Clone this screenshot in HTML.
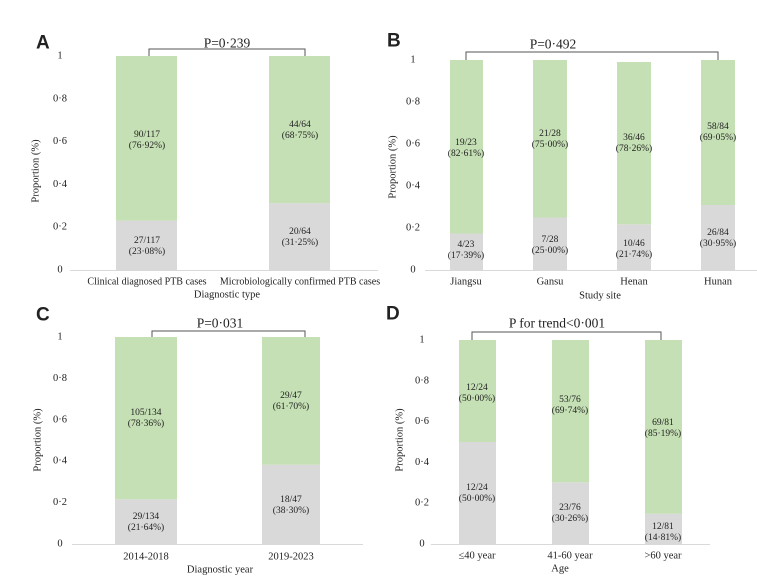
<!DOCTYPE html>
<html><head><meta charset="utf-8"><style>body{margin:0;background:#fff}svg{display:block}</style></head><body>
<svg width="757" height="580" xmlns="http://www.w3.org/2000/svg" font-family="Liberation Serif, serif" fill="#222">
<style>
.t{font-size:10.5px;text-anchor:middle;dominant-baseline:central}
.c{font-size:10px;text-anchor:middle;dominant-baseline:central}
.b{font-size:9.5px;text-anchor:middle;dominant-baseline:central}
.p{font-size:13.5px;text-anchor:middle;dominant-baseline:central}
.L{font-family:"Liberation Sans",sans-serif;font-weight:bold;font-size:19px;dominant-baseline:central}
.g{fill:#c5e0b4}.h{fill:#d9d9d9}
line{stroke:#d9d9d9;stroke-width:1}
path{fill:none;stroke:#555;stroke-width:1}
</style>
<!-- Panel A -->
<text class="L" x="36" y="43">A</text>
<path d="M149 56V49H305V56"/><text class="p" x="227" y="43">P=0·239</text>
<line x1="70" y1="270.5" x2="378" y2="270.5"/>
<g class="t"><text x="60" y="270">0</text><text x="60" y="227.2">0·2</text><text x="60" y="184.4">0·4</text><text x="60" y="141.6">0·6</text><text x="60" y="98.8">0·8</text><text x="60" y="56">1</text></g>
<rect class="h" x="116" y="220.6" width="61" height="49.4"/><rect class="g" x="116" y="56" width="61" height="164.6"/>
<rect class="h" x="269" y="203.1" width="61" height="66.9"/><rect class="g" x="269" y="56" width="61" height="147.1"/>
<text class="b" x="147" y="135">90/117</text><text class="b" x="147" y="146">(76·92%)</text>
<text class="b" x="147" y="241">27/117</text><text class="b" x="147" y="252">(23·08%)</text>
<text class="b" x="300" y="125">44/64</text><text class="b" x="300" y="136">(68·75%)</text>
<text class="b" x="300" y="232">20/64</text><text class="b" x="300" y="243">(31·25%)</text>
<text class="c" x="147" y="282">Clinical diagnosed PTB cases</text>
<text class="c" x="300" y="282">Microbiologically confirmed PTB cases</text>
<text class="t" x="227" y="295">Diagnostic type</text>
<text class="t" transform="translate(36,171) rotate(-90)">Proportion (%)</text>

<!-- Panel B -->
<text class="L" x="387" y="41">B</text>
<path d="M466 60V52H718V60"/><text class="p" x="553" y="44">P=0·492</text>
<line x1="425" y1="270.5" x2="757" y2="270.5"/>
<g class="t"><text x="413" y="270">0</text><text x="413" y="228">0·2</text><text x="413" y="186">0·4</text><text x="413" y="144">0·6</text><text x="413" y="102">0·8</text><text x="413" y="60">1</text></g>
<rect class="h" x="450" y="233.5" width="33" height="36.5"/><rect class="g" x="450" y="60" width="33" height="173.5"/>
<rect class="h" x="533" y="217.5" width="34" height="52.5"/><rect class="g" x="533" y="60" width="34" height="157.5"/>
<rect class="h" x="617" y="224.3" width="34" height="45.7"/><rect class="g" x="617" y="62" width="34" height="162.3"/>
<rect class="h" x="701" y="205" width="34" height="65"/><rect class="g" x="701" y="60" width="34" height="145"/>
<text class="b" x="466" y="143">19/23</text><text class="b" x="466" y="154">(82·61%)</text>
<text class="b" x="466" y="245">4/23</text><text class="b" x="466" y="256">(17·39%)</text>
<text class="b" x="550" y="134">21/28</text><text class="b" x="550" y="145">(75·00%)</text>
<text class="b" x="550" y="240">7/28</text><text class="b" x="550" y="251">(25·00%)</text>
<text class="b" x="634" y="138">36/46</text><text class="b" x="634" y="149">(78·26%)</text>
<text class="b" x="634" y="244">10/46</text><text class="b" x="634" y="255">(21·74%)</text>
<text class="b" x="718" y="127">58/84</text><text class="b" x="718" y="138">(69·05%)</text>
<text class="b" x="718" y="233">26/84</text><text class="b" x="718" y="244">(30·95%)</text>
<text class="t" x="466" y="282">Jiangsu</text><text class="t" x="550" y="282">Gansu</text><text class="t" x="634" y="282">Henan</text><text class="t" x="718" y="282">Hunan</text>
<text class="t" x="600" y="296">Study site</text>
<text class="t" transform="translate(393,167) rotate(-90)">Proportion (%)</text>

<!-- Panel C -->
<text class="L" x="36" y="315">C</text>
<path d="M152 337V331H305V337"/><text class="p" x="220" y="323">P=0·031</text>
<line x1="72" y1="544.5" x2="363" y2="544.5"/>
<g class="t"><text x="60" y="544">0</text><text x="60" y="502.6">0·2</text><text x="60" y="461.2">0·4</text><text x="60" y="419.8">0·6</text><text x="60" y="378.4">0·8</text><text x="60" y="337">1</text></g>
<rect class="h" x="115" y="499.2" width="62" height="44.8"/><rect class="g" x="115" y="337" width="62" height="162.2"/>
<rect class="h" x="262" y="464.7" width="58" height="79.3"/><rect class="g" x="262" y="337" width="58" height="127.7"/>
<text class="b" x="146" y="413">105/134</text><text class="b" x="146" y="424">(78·36%)</text>
<text class="b" x="146" y="517">29/134</text><text class="b" x="146" y="528">(21·64%)</text>
<text class="b" x="291" y="396">29/47</text><text class="b" x="291" y="407">(61·70%)</text>
<text class="b" x="291" y="500">18/47</text><text class="b" x="291" y="511">(38·30%)</text>
<text class="t" x="146" y="557">2014-2018</text><text class="t" x="291" y="557">2019-2023</text>
<text class="t" x="220" y="570">Diagnostic year</text>
<text class="t" transform="translate(38,440) rotate(-90)">Proportion (%)</text>

<!-- Panel D -->
<text class="L" x="386" y="314">D</text>
<path d="M472 340V332H661V340"/><text class="p" x="557" y="323">P for trend&lt;0·001</text>
<line x1="431" y1="544.5" x2="710" y2="544.5"/>
<g class="t"><text x="422" y="544">0</text><text x="422" y="503.2">0·2</text><text x="422" y="462.4">0·4</text><text x="422" y="421.6">0·6</text><text x="422" y="380.8">0·8</text><text x="422" y="340">1</text></g>
<rect class="h" x="459" y="442" width="37" height="102"/><rect class="g" x="459" y="340" width="37" height="102"/>
<rect class="h" x="552" y="482.3" width="37" height="61.7"/><rect class="g" x="552" y="340" width="37" height="142.3"/>
<rect class="h" x="645" y="513.8" width="37" height="30.2"/><rect class="g" x="645" y="340" width="37" height="173.8"/>
<text class="b" x="477" y="388">12/24</text><text class="b" x="477" y="399">(50·00%)</text>
<text class="b" x="477" y="488">12/24</text><text class="b" x="477" y="499">(50·00%)</text>
<text class="b" x="570" y="400">53/76</text><text class="b" x="570" y="411">(69·74%)</text>
<text class="b" x="570" y="508">23/76</text><text class="b" x="570" y="519">(30·26%)</text>
<text class="b" x="663" y="423">69/81</text><text class="b" x="663" y="434">(85·19%)</text>
<text class="b" x="663" y="527">12/81</text><text class="b" x="663" y="538">(14·81%)</text>
<text class="t" x="477" y="556">≤40 year</text><text class="t" x="570" y="556">41-60 year</text><text class="t" x="663" y="556">&gt;60 year</text>
<text class="t" x="560" y="569">Age</text>
<text class="t" transform="translate(400,440) rotate(-90)">Proportion  (%)</text>
</svg>
</body></html>
